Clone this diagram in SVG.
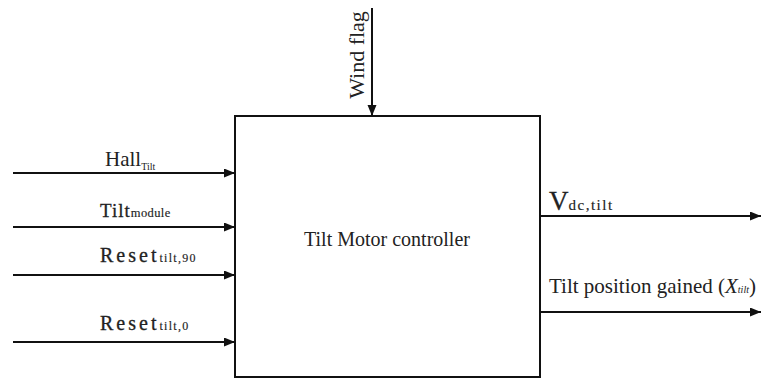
<svg xmlns="http://www.w3.org/2000/svg" width="769" height="378" viewBox="0 0 769 378">
<style>
  .ln { stroke: #111; stroke-width: 2; fill: none; }
  .box { stroke: #111; stroke-width: 2; fill: #fff; }
  .lbl { font-family: "Liberation Serif", "Times New Roman", serif; fill: #222; }
  .m { stroke: #222; stroke-width: 0.3; }
  .s { stroke-width: 0.15; }
</style>
<defs>
  <marker id="arr" markerUnits="userSpaceOnUse" markerWidth="12" markerHeight="10" refX="11" refY="4.5" orient="auto">
    <path d="M0,0 L11,4.5 L0,9 Z" fill="#111"/>
  </marker>
</defs>
<rect width="769" height="378" fill="#fff"/>
<g id="connectors">
  <line class="ln" x1="13" y1="173" x2="235" y2="173" marker-end="url(#arr)"/>
  <line class="ln" x1="13" y1="227" x2="235" y2="227" marker-end="url(#arr)"/>
  <line class="ln" x1="13" y1="275" x2="235" y2="275" marker-end="url(#arr)"/>
  <line class="ln" x1="13" y1="342" x2="235" y2="342" marker-end="url(#arr)"/>
  <line class="ln" x1="372" y1="8" x2="372" y2="116" marker-end="url(#arr)"/>
  <line class="ln" x1="540" y1="216" x2="761" y2="216" marker-end="url(#arr)"/>
  <line class="ln" x1="540" y1="312" x2="761" y2="312" marker-end="url(#arr)"/>
</g>
<g id="controller">
  <rect class="box" x="235" y="116" width="305" height="261"/>
  <text class="lbl" x="387" y="246" font-size="20" text-anchor="middle" fill="#333">Tilt Motor controller</text>
</g>
<g id="in-hall">
  <text class="lbl" x="105" y="166" font-size="21">Hall<tspan font-size="10" dy="4">Tilt</tspan></text>
</g>
<g id="in-tilt-module">
  <text class="lbl m" x="100" y="217" font-size="19" letter-spacing="1">Tilt<tspan class="s" font-size="12.5" letter-spacing="0.4">module</tspan></text>
</g>
<g id="in-reset-90">
  <text class="lbl m" x="100" y="262" font-size="20" letter-spacing="3">Reset<tspan class="s" font-size="12" letter-spacing="1.3">tilt,90</tspan></text>
</g>
<g id="in-reset-0">
  <text class="lbl m" x="100" y="330" font-size="20" letter-spacing="3">Reset<tspan class="s" font-size="12" letter-spacing="1.3">tilt,0</tspan></text>
</g>
<g id="in-wind-flag">
  <text class="lbl" transform="translate(364,55) rotate(-90)" font-size="22" text-anchor="middle">Wind flag</text>
</g>
<g id="out-vdc">
  <text class="lbl m" x="549" y="210" font-size="27">V<tspan class="s" font-size="15" letter-spacing="1.5">dc,tilt</tspan></text>
</g>
<g id="out-position">
  <text class="lbl" x="549" y="293" font-size="21">Tilt position gained (<tspan font-style="italic">X</tspan><tspan font-size="10" font-style="italic">tilt</tspan>)</text>
</g>
</svg>
